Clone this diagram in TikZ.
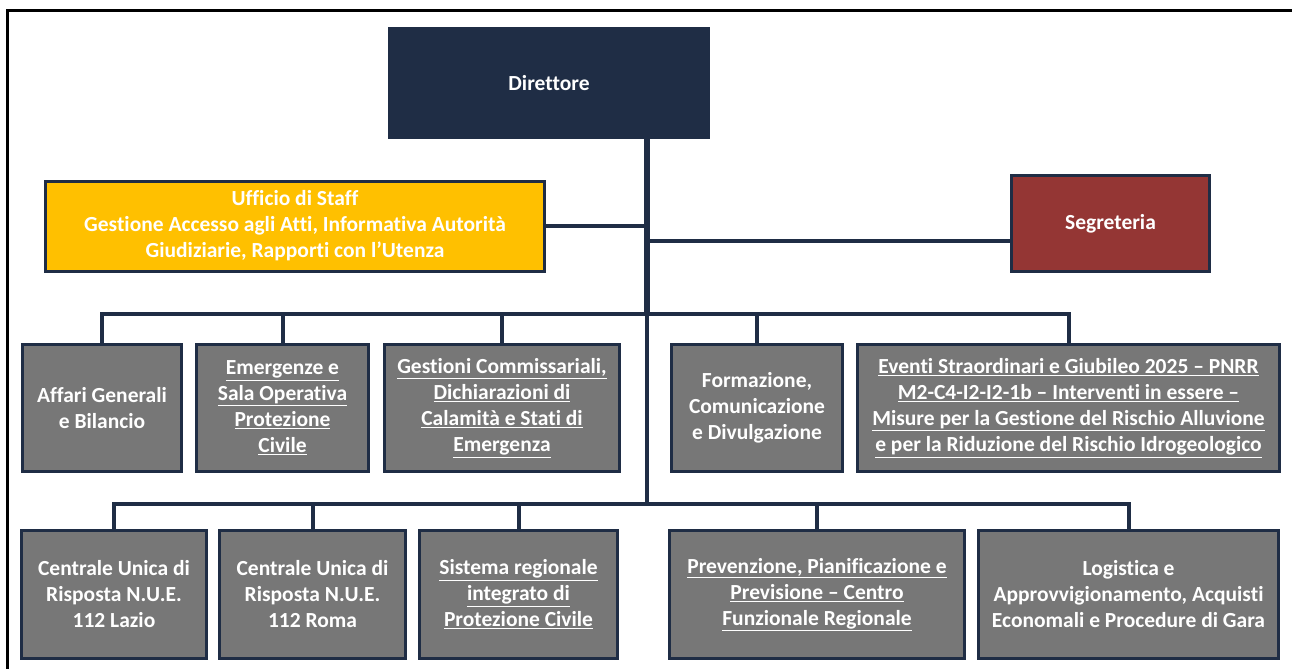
\documentclass[tikz,border=0pt]{standalone}
\usepackage{fontspec}
\setmainfont{Carlito}[Ligatures={NoCommon}]
\usepackage{tikz}
\usetikzlibrary{positioning}
\definecolor{navy}{HTML}{1F2D45}
\definecolor{unitgrey}{HTML}{777777}
\definecolor{staffamber}{HTML}{FFC000}
\definecolor{segred}{HTML}{943634}
\tikzstyle{box} = [rectangle, inner sep=0pt, align=center, text=white, draw=navy, line width=3pt, font=\fontsize{21.5}{26}\selectfont\bfseries]
\tikzstyle{dirbox} = [box, fill=navy, minimum width=319pt, minimum height=109pt]
\tikzstyle{staffbox} = [box, fill=staffamber, minimum width=499pt, minimum height=90pt]
\tikzstyle{segbox} = [box, fill=segred, minimum width=198pt, minimum height=96pt]
\tikzstyle{unit} = [box, fill=unitgrey, minimum height=127pt]
\tikzstyle{link} = [draw=navy, line width=4pt]
\tikzstyle{trunk} = [draw=navy, line width=6pt]
\def\ua{408}
\def\ub{594.5}

\begin{document}
\begin{tikzpicture}[x=1pt, y=-1pt]
\useasboundingbox (0,0) rectangle (1292,669);
\draw [line width=3pt] (1292,11) -- (7,11) -- (7,669);

\node (dir) [dirbox] at (549,83) {Direttore};
\node (staff) [staffbox] at (295,226) {Ufficio di Staff\\Gestione Accesso agli Atti, Informativa Autorità\\Giudiziarie, Rapporti con l’Utenza};
\node (seg) [segbox] at (1110.5,223.5) {Segreteria};

% first row
\node (a1) [unit, minimum width=159pt] at (102,\ua) {Affari Generali\\e Bilancio};
\node (a2) [unit, minimum width=172pt] at (282.5,\ua) {\underline{Emergenze e}\\\underline{Sala Operativa}\\\underline{Protezione}\\\underline{Civile}};
\node (a3) [unit, minimum width=235pt] at (502,\ua) {\underline{Gestioni Commissariali,}\\\underline{Dichiarazioni di}\\\underline{Calamità e Stati di}\\\underline{Emergenza}};
\node (a4) [unit, minimum width=171pt] at (757,\ua) {Formazione,\\Comunicazione\\e Divulgazione};
\node (a5) [unit, minimum width=422pt] at (1068.5,\ua) {\underline{Eventi Straordinari e Giubileo 2025 – PNRR}\\\underline{M2-C4-I2-I2-1b – Interventi in essere –}\\\underline{Misure per la Gestione del Rischio Alluvione}\\\underline{e per la Riduzione del Rischio Idrogeologico}};

% second row
\node (b1) [unit, minimum width=185pt, minimum height=128pt] at (114,\ub) {Centrale Unica di\\Risposta N.U.E.\\112 Lazio};
\node (b2) [unit, minimum width=186pt, minimum height=128pt] at (312.5,\ub) {Centrale Unica di\\Risposta N.U.E.\\112 Roma};
\node (b3) [unit, minimum width=198pt, minimum height=128pt] at (518.5,\ub) {\underline{Sistema regionale}\\\underline{integrato di}\\\underline{Protezione Civile}};
\node (b4) [unit, minimum width=295pt, minimum height=128pt] at (817,\ub) {\underline{Prevenzione, Pianificazione e}\\\underline{Previsione – Centro}\\\underline{Funzionale Regionale}};
\node (b5) [unit, minimum width=300pt, minimum height=128pt] at (1128.5,\ub) {Logistica e\\Approvvigionamento, Acquisti\\Economali e Procedure di Gara};

\coordinate (bus1) at (647,314);
\coordinate (bus2) at (647,503.5);

\draw [trunk] (dir.south -| bus1) -- (bus1);
\draw [link] (bus1) -- (bus2);
\draw [link] (staff.east) -- (staff.east -| bus1);
\draw [link] ([yshift=-17.5pt]seg.west) -- ([yshift=-17.5pt]seg.west -| bus1);

\draw [link] (a1.north) |- (bus1) -| (a5.north);
\foreach \n in {a2,a3,a4}
  \draw [link] (\n.north) -- (\n.north |- bus1);

\draw [link] (b1.north) |- (bus2) -| (b5.north);
\foreach \n in {b2,b3,b4}
  \draw [link] (\n.north) -- (\n.north |- bus2);
\end{tikzpicture}
\end{document}
